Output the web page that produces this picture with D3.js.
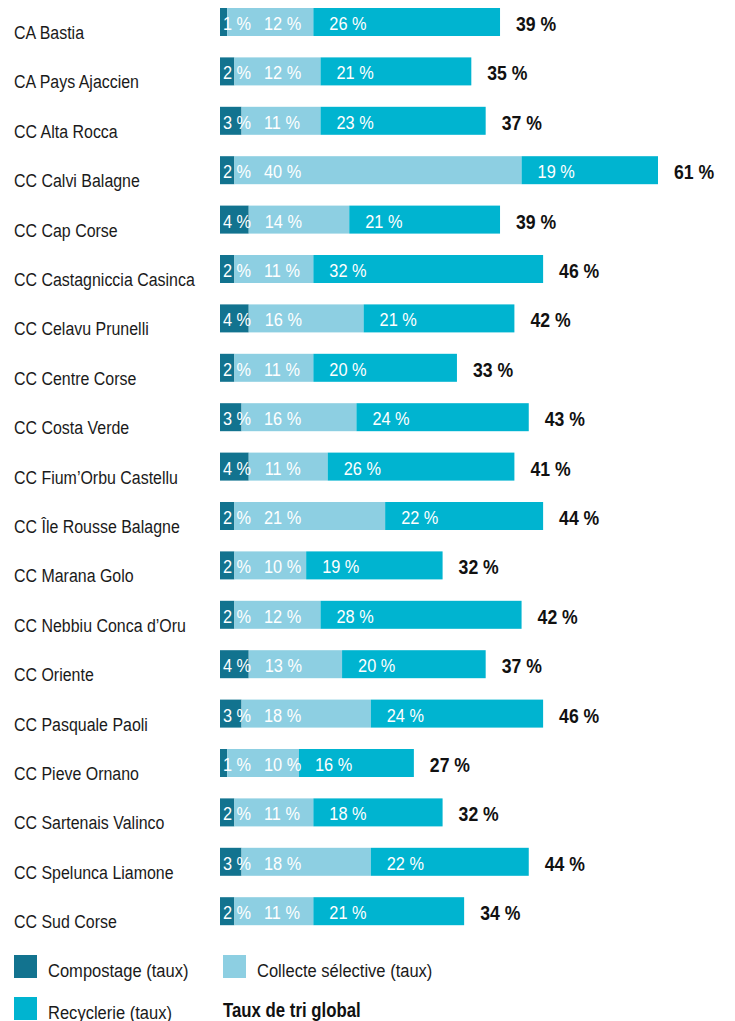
<!DOCTYPE html>
<html>
<head>
<meta charset="utf-8">
<script src="https://cdn.jsdelivr.net/npm/d3@7"></script>
<style>
  body { margin: 0; background: #fff; }
  svg text { font-family: "Liberation Sans", Arial, sans-serif; }
</style>
</head>
<body>
<div id="viz"></div>
<script>
// data
var communes = [
  'CA Bastia', 'CA Pays Ajaccien', 'CC Alta Rocca', 'CC Calvi Balagne', 'CC Cap Corse',
  'CC Castagniccia Casinca', 'CC Celavu Prunelli', 'CC Centre Corse', 'CC Costa Verde',
  'CC Fium\u2019Orbu Castellu', 'CC \u00cele Rousse Balagne', 'CC Marana Golo',
  'CC Nebbiu Conca d\u2019Oru', 'CC Oriente', 'CC Pasquale Paoli', 'CC Pieve Ornano',
  'CC Sartenais Valinco', 'CC Spelunca Liamone', 'CC Sud Corse'
];
var compostage = [1, 2, 3, 2, 4, 2, 4, 2, 3, 4, 2, 2, 2, 4, 3, 1, 2, 3, 2];
var collecte   = [12, 12, 11, 40, 14, 11, 16, 11, 16, 11, 21, 10, 12, 13, 18, 10, 11, 18, 11];
var recyclerie = [26, 21, 23, 19, 21, 32, 21, 20, 24, 26, 22, 19, 28, 20, 24, 16, 18, 22, 21];
var totaux     = [39, 35, 37, 61, 39, 46, 42, 33, 43, 41, 44, 32, 42, 37, 46, 27, 32, 44, 34];

var series = ['Compostage (taux)', 'Collecte s\u00e9lective (taux)', 'Recyclerie (taux)'];
var colors = ['#12738f', '#8dcfe2', '#00b4d0'];

var width = 735, height = 1021;

var svg = d3.select('#viz').append('svg')
    .attr('width', width)
    .attr('height', height);

// no condensed font installed, so squeeze the text horizontally
function place(sel, x, y, sx) {
  return sel.attr('transform', 'translate(' + x + ',' + y + ') scale(' + sx + ',1)');
}

var x = d3.scaleLinear().domain([0, 61]).range([220, 658]);

var step = 49.4, barH = 28, pad = 1 - barH / step;
var y = d3.scaleBand()
    .domain(communes)
    .range([8, 8 + step * (communes.length - pad)])
    .paddingInner(pad)
    .paddingOuter(0);

var rows = communes.map(function(c, i) {
  return {name: c, vals: [compostage[i], collecte[i], recyclerie[i]], total: totaux[i]};
});

var row = svg.selectAll('g.row')
    .data(rows)
    .enter().append('g')
    .attr('class', 'row')
    .attr('transform', function(d) { return 'translate(0,' + y(d.name) + ')'; });

// category labels
row.each(function(d) {
  place(d3.select(this).append('text'), 14, 31, 0.84)
    .attr('fill', '#1a1a1a')
    .style('font-size', '19px')
    .text(d.name);
});

// stacked segments
row.each(function(d) {
  var g = d3.select(this);
  var acc = 0;
  var segs = d.vals.map(function(v, k) {
    var s = {k: k, v: v, x0: acc, x1: acc + v};
    acc += v;
    return s;
  });
  g.selectAll('rect')
    .data(segs)
    .enter().append('rect')
    .attr('x', function(s) { return x(s.x0); })
    .attr('y', 0)
    .attr('width', function(s) { return x(s.x1) - x(s.x0); })
    .attr('height', y.bandwidth())
    .attr('fill', function(s) { return colors[s.k]; });

  segs.forEach(function(s) {
    var tx;
    if (s.k == 0) tx = x(0) + 3;
    else if (s.k == 1) tx = Math.max(x(0) + 44, x(s.x0) + 16);
    else tx = x(s.x0) + 16;
    place(g.append('text'), tx, 22, 0.86)
      .attr('fill', 'white')
      .style('font-size', '19px')
      .text(s.v + ' %');
  });

  place(g.append('text'), x(acc) + 16, 23, 0.84)
    .attr('fill', '#111')
    .style('font-size', '21px')
    .style('font-weight', 'bold')
    .text(d.total + ' %');
});

// legend
var legend = [
  {label: series[0], color: colors[0], x: 14, y: 955},
  {label: series[1], color: colors[1], x: 223, y: 955},
  {label: series[2], color: colors[2], x: 14, y: 997}
];
legend.forEach(function(l) {
  svg.append('rect')
    .attr('x', l.x).attr('y', l.y)
    .attr('width', 23).attr('height', 23)
    .attr('fill', l.color);
  place(svg.append('text'), l.x + 34, l.y + 22, 0.87)
    .attr('fill', '#1a1a1a')
    .style('font-size', '19px')
    .text(l.label);
});
place(svg.append('text'), 223, 1017, 0.84)
  .attr('fill', '#111')
  .style('font-size', '20px')
  .style('font-weight', 'bold')
  .text('Taux de tri global');
</script>
</body>
</html>
